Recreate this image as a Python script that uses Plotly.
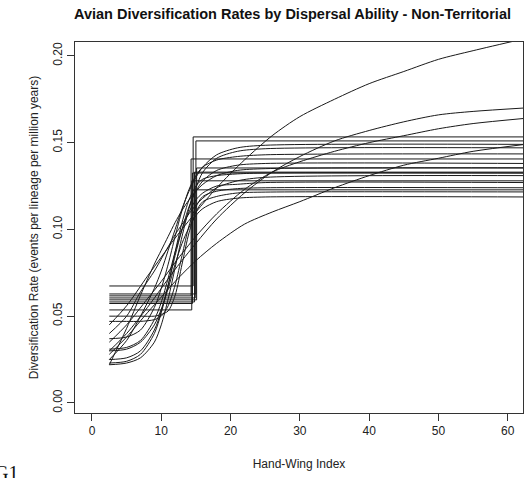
import plotly.graph_objects as go

# ---- data ----
x_ticks = [0, 10, 20, 30, 40, 50, 60]
y_ticks = [0.00, 0.05, 0.10, 0.15, 0.20]
y_tick_labels = ["0.00", "0.05", "0.10", "0.15", "0.20"]

# step-function fits: low rate, breakpoint, high rate
step_start = 2.5
step_end = 62.5
step_low = [0.0674, 0.0628, 0.0617, 0.0594, 0.0582, 0.0573, 0.0536, 0.0605]
step_x = [14.6, 15.0, 14.3, 15.1, 14.8, 14.5, 14.4, 14.9]
step_high = [0.1533, 0.1510, 0.1406, 0.1354, 0.1330, 0.1325, 0.1280, 0.1228]

# sigmoid-like fits sampled on a common grid
xs = [2.5, 5, 7, 9, 10, 11, 12, 13, 14, 15, 16, 18, 21, 25, 62.5]
sig_a = [0.022, 0.023, 0.026, 0.035, 0.045, 0.060, 0.078, 0.096, 0.112, 0.124, 0.133, 0.141, 0.145, 0.1465, 0.147]
sig_b = [0.025, 0.026, 0.030, 0.042, 0.053, 0.068, 0.085, 0.100, 0.113, 0.122, 0.128, 0.134, 0.137, 0.138, 0.138]
sig_c = [0.031, 0.032, 0.036, 0.048, 0.058, 0.072, 0.087, 0.100, 0.110, 0.117, 0.121, 0.125, 0.126, 0.127, 0.127]
sig_d = [0.037, 0.038, 0.042, 0.055, 0.066, 0.080, 0.096, 0.111, 0.123, 0.131, 0.136, 0.140, 0.142, 0.143, 0.1435]
sig_e = [0.047, 0.047, 0.047, 0.048, 0.050, 0.056, 0.068, 0.085, 0.102, 0.113, 0.119, 0.122, 0.1235, 0.124, 0.124]
sig_f = [0.050, 0.050, 0.050, 0.050, 0.051, 0.053, 0.062, 0.080, 0.098, 0.110, 0.116, 0.119, 0.121, 0.1215, 0.1216]
sig_g = [0.030, 0.031, 0.035, 0.045, 0.054, 0.066, 0.080, 0.092, 0.101, 0.108, 0.112, 0.116, 0.118, 0.1187, 0.1187]
sig_h = [0.023, 0.024, 0.028, 0.040, 0.052, 0.068, 0.087, 0.104, 0.117, 0.125, 0.129, 0.131, 0.132, 0.1325, 0.1325]
sig_i = [0.022, 0.043, 0.062, 0.080, 0.088, 0.096, 0.104, 0.111, 0.117, 0.122, 0.126, 0.131, 0.134, 0.135, 0.1355]
sig_j = [0.040, 0.050, 0.064, 0.076, 0.083, 0.090, 0.097, 0.103, 0.109, 0.114, 0.118, 0.124, 0.128, 0.130, 0.131]
sig_k = [0.025, 0.036, 0.050, 0.066, 0.076, 0.088, 0.100, 0.112, 0.122, 0.130, 0.136, 0.143, 0.147, 0.1485, 0.149]
sigmoids = [sig_a, sig_b, sig_c, sig_d, sig_e, sig_f, sig_g, sig_h, sig_i, sig_j, sig_k]

# gradual (saturating) fits
xg = [2.5, 5, 8, 10, 12, 15, 18, 22, 26, 30, 35, 40, 45, 50, 55, 62.5]
grad_1 = [0.045, 0.056, 0.073, 0.084, 0.095, 0.110, 0.124, 0.140, 0.154, 0.165, 0.175, 0.184, 0.191, 0.198, 0.203, 0.210]
grad_2 = [0.030, 0.040, 0.055, 0.066, 0.077, 0.092, 0.106, 0.121, 0.133, 0.142, 0.151, 0.157, 0.162, 0.166, 0.168, 0.170]
grad_3 = [0.035, 0.045, 0.060, 0.070, 0.081, 0.096, 0.109, 0.123, 0.133, 0.139, 0.145, 0.150, 0.154, 0.158, 0.161, 0.164]
grad_4 = [0.028, 0.038, 0.052, 0.061, 0.070, 0.082, 0.092, 0.103, 0.110, 0.116, 0.124, 0.131, 0.137, 0.141, 0.145, 0.149]
gradual = [grad_1, grad_2, grad_3, grad_4]

LINE = dict(color="#1a1a1a", width=1)

fig = go.Figure()
for lo, xb, hi in zip(step_low, step_x, step_high):
    fig.add_trace(go.Scatter(x=[step_start, xb, step_end], y=[lo, hi, hi], mode="lines",
                             line=dict(shape="hv", **LINE), showlegend=False, hoverinfo="skip"))
for ys in sigmoids:
    fig.add_trace(go.Scatter(x=xs, y=ys, mode="lines",
                             line=dict(shape="spline", smoothing=0.8, **LINE), showlegend=False, hoverinfo="skip"))
for ys in gradual:
    fig.add_trace(go.Scatter(x=xg, y=ys, mode="lines",
                             line=dict(shape="spline", smoothing=0.8, **LINE), showlegend=False, hoverinfo="skip"))

FONT = "Liberation Sans, Arial, sans-serif"
fig.update_layout(
    width=531, height=478,
    margin=dict(l=75, r=8, t=42, b=65),
    paper_bgcolor="white", plot_bgcolor="white",
    font=dict(family=FONT, size=12, color="#222"),
    xaxis=dict(range=[-2.45, 62.2], tickvals=x_ticks, ticks="outside", ticklen=7,
               tickcolor="#333", showgrid=False, zeroline=False, showline=True,
               linecolor="#333", linewidth=1, mirror=True,
               tickfont=dict(size=12, color="#222"),
               title=dict(text="Hand-Wing Index", font=dict(size=12, color="#222"), standoff=22)),
    yaxis=dict(range=[-0.0058, 0.208], tickvals=y_ticks, ticktext=y_tick_labels, ticks="outside",
               ticklen=7, tickcolor="#333", tickangle=-90, showgrid=False, zeroline=False,
               showline=True, linecolor="#333", linewidth=1, mirror=True,
               tickfont=dict(size=12, color="#222"),
               title=dict(text="Diversification Rate (events per lineage per million years)",
                          font=dict(size=12, color="#222"), standoff=10)),
)
fig.add_annotation(text="<b>Avian Diversification Rates by Dispersal Ability - Non-Territorial</b>",
                   xref="paper", yref="paper", x=0.4866, y=1.0, yshift=28, xanchor="center",
                   yanchor="middle", showarrow=False, font=dict(family=FONT, size=14.5, color="#111"))
fig.add_annotation(text="G1", xref="paper", yref="paper", x=-0.185, y=-0.128, xanchor="left",
                   yanchor="top", showarrow=False,
                   font=dict(family="Liberation Serif, serif", size=20, color="#111"))

fig.write_html("out.html")
